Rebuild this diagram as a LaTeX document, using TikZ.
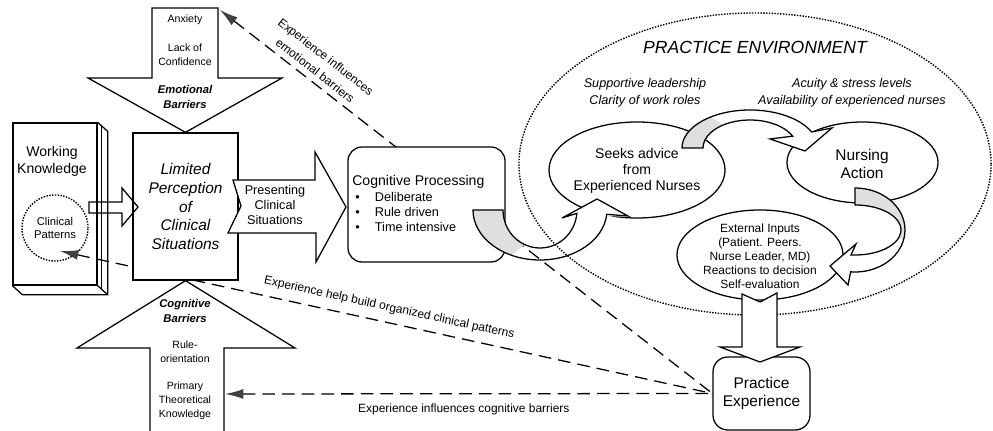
\documentclass[tikz,border=0pt]{standalone}
\usepackage{fontspec}
\setmainfont{Liberation Sans}
\usetikzlibrary{arrows.meta}
\usetikzlibrary{calc}
\usetikzlibrary{shapes.geometric}

\tikzset{
  outline/.style={line width=0.9pt, line join=miter},
  whitebox/.style={outline, draw, fill=white},
  expline/.style={line width=0.9pt, dash pattern=on 9pt off 5pt, arrows={Latex[length=13pt,width=7pt,color=black!75]-}},
  note/.style={font=\fontsize{8.5}{12.5}\selectfont, inner sep=1pt, align=center},
  bartxt/.style={font=\fontsize{7.5}{10}\selectfont, align=center, inner sep=0pt},
  bartitle/.style={font=\fontsize{8}{10}\selectfont\bfseries\itshape, align=center, inner sep=0pt},
  oval/.style={draw, ellipse, line width=0.9pt, fill=white, inner sep=0pt},
  envtxt/.style={font=\fontsize{9}{12}\selectfont\itshape, align=center, inner sep=0pt},
  dots/.style={line width=1pt, dash pattern=on 1pt off 1pt},
}

\begin{document}
\begin{tikzpicture}[x=0.025cm, y=0.025cm]
    \useasboundingbox (0,0) rectangle (993,-431);

    % practice environment
    \node[draw, ellipse, dots, minimum width=11.8cm, minimum height=7.55cm, inner sep=0pt] (env) at (755,-164) {};
    \node[font=\fontsize{12.5}{14}\selectfont\itshape] (env-title) at (755,-47) {PRACTICE ENVIRONMENT};
    \node[envtxt] (env-lead) at (645,-93) {Supportive leadership\\Clarity of work roles};
    \node[envtxt] (env-load) at (852,-93) {Acuity \& stress levels\\Availability of experienced nurses};

    % working knowledge
    \node[whitebox, minimum width=2.1cm, minimum height=4.05cm] (wk) at (55,-204) {};
    \draw[outline] (wk.north east) -- ++(10,-9) |- ($(wk.south west)+(10,-9)$) -- (wk.south west);
    \draw[outline] (wk.south east) -- ++(10,-9);
    \draw[outline] ($(wk.north east)+(4,-3.5)$) -- ($(wk.south east)+(4,-3.5)$);
    \node[font=\fontsize{10}{12}\selectfont, align=center] (wk-txt) at (52,-161) {Working\\Knowledge};
    \node[draw, circle, dots, minimum size=1.65cm, inner sep=0pt, font=\fontsize{8}{9.3}\selectfont, align=center] (clinpat) at (55,-228) {Clinical\\Patterns};

    \node[whitebox, rounded corners=10.6pt, minimum width=2.425cm, minimum height=1.825cm, font=\fontsize{11}{13.5}\selectfont, align=center] (pexp) at (761.5,-393.5) {Practice\\Experience};

    % experience feeds back
    \coordinate (emo-corner) at (220,-10);
    \coordinate (clinpat-in) at (60,-251);
    \coordinate (cog-edge) at (225,-394);
    \draw[expline] (emo-corner) -- node[note, sloped, above=3pt, pos=0.18] (lbl-emo) {Experience influences\\emotional barriers} (pexp.west);
    \draw[expline] (clinpat-in) -- node[note, sloped, above=5pt, pos=0.5] (lbl-pat) {Experience help build organized clinical patterns} (pexp.west);
    \draw[expline] (cog-edge) -- node[note, below=6pt, pos=0.49] (lbl-cog) {Experience influences cognitive barriers} (pexp.west);

    % limited perception
    \node[whitebox, minimum width=2.625cm, minimum height=3.675cm, font=\fontsize{11}{13.3}\selectfont\itshape, align=center] (limited) at (185.5,-206.5) {Limited\\Perception\\of\\Clinical\\Situations};
    \draw[outline] (89,-202) -- (122,-202) -- (122,-188) -- (138,-207) -- (122,-226) -- (122,-213) -- (89,-213) -- cycle;

    % emotional barriers
    \draw[whitebox] (152,-8) -- (218,-8) -- (218,-78) -- (282,-78) -- (limited.north) -- (88,-78) -- (152,-78) -- cycle;
    \node[bartxt] (emo-anx) at (185,-20) {Anxiety};
    \node[bartxt] (emo-conf) at (185,-55) {Lack of\\Confidence};
    \node[bartitle] (emo-title) at (185,-97) {Emotional\\Barriers};

    % cognitive barriers
    \fill[white] (150,-432) -- (150,-348) -- (77,-348) -- (limited.south) -- (295,-348) -- (224,-348) -- (224,-432) -- cycle;
    \draw[outline] (150,-432) -- (150,-348) -- (77,-348) -- (limited.south) -- (295,-348) -- (224,-348) -- (224,-432);
    \node[bartitle] (cog-title) at (185,-311) {Cognitive\\Barriers};
    \node[bartxt] (cog-rule) at (185,-352) {Rule-\\orientation};
    \node[bartxt] (cog-prim) at (185,-401) {Primary\\Theoretical\\Knowledge};

    % presenting clinical situations
    \draw[whitebox] (233,-180) -- (315,-180) -- (315,-152) -- (346,-207) -- (316,-262) -- (316,-233) -- (228,-233) -- (241,-206) -- cycle;
    \node[font=\fontsize{9}{11}\selectfont, align=center, inner sep=0pt] (present) at (275,-205) {Presenting\\Clinical\\Situations};

    % cognitive processing
    \node[whitebox, rounded corners=10pt, minimum width=3.925cm, minimum height=2.875cm] (cogproc) at (426.5,-204.5) {};
    \node[anchor=west, font=\fontsize{10}{12}\selectfont, inner sep=0pt] (cogproc-title) at (352,-182) {Cognitive Processing};
    \node[anchor=north west, align=left, font=\fontsize{9}{10.6}\selectfont, inner sep=0pt] (cogproc-list) at (355,-192)
        {\makebox[14pt][l]{\textbullet}Deliberate\\\makebox[14pt][l]{\textbullet}Rule driven\\\makebox[14pt][l]{\textbullet}Time intensive};

    % ovals inside the environment
    \node[oval, minimum width=4.4cm, minimum height=2.4cm] (seeks) at (637,-170) {};
    \node[font=\fontsize{10}{11.5}\selectfont, align=center, inner sep=0pt] (seeks-txt) at (637,-171) {Seeks advice\\from\\Experienced Nurses};
    \node[oval, minimum width=3.775cm, minimum height=2.025cm] (nursing) at (862.5,-162.5) {};
    \node[font=\fontsize{11}{12.8}\selectfont, align=center, inner sep=0pt] (nursing-txt) at (862,-164) {Nursing\\Action};
    \node[oval, minimum width=4.15cm, minimum height=2.25cm] (external) at (760,-255) {};
    \node[font=\fontsize{8.5}{10}\selectfont, align=center, inner sep=0pt] (external-txt) at (760,-256) {External Inputs\\(Patient. Peers.\\Nurse Leader, MD)\\Reactions to decision\\Self-evaluation};

    % external inputs to practice experience
    \draw[whitebox] (742,-294) -- (742,-347) -- (720,-347) -- (760,-362) -- (800,-347) -- (777,-347) -- (777,-293) -- (760,-302) -- cycle;

    % cognitive processing to seeks advice
    \begin{scope}[shift={(540,-210)}]
        \fill[gray!25] (180:67 and 50) arc[start angle=180, end angle=245, x radius=67, y radius=50] -- (245:37 and 38) arc[start angle=245, end angle=180, x radius=37, y radius=38] -- cycle;
        \fill[white] (88,-6) -- (57,11) -- (22,-8) -- cycle;
        \draw[outline] (180:67 and 50) arc[start angle=180, end angle=355, x radius=67, y radius=50] -- (88,-6) -- (57,11) -- (22,-8) -- (355:37 and 38) arc[start angle=355, end angle=180, x radius=37, y radius=38] -- cycle;
    \end{scope}

    % seeks advice to nursing action
    \begin{scope}[shift={(750,-148)}]
        \fill[gray!25] (180:68 and 38) arc[start angle=180, end angle=125, x radius=68, y radius=38] -- (125:47 and 28) arc[start angle=125, end angle=180, x radius=47, y radius=28] -- cycle;
        \fill[white] (82,20) -- (55,-3) -- (20,9) -- cycle;
        \draw[outline] (180:68 and 38) arc[start angle=180, end angle=25, x radius=68, y radius=38] -- (82,20) -- (55,-3) -- (20,9) -- (25:47 and 28) arc[start angle=25, end angle=180, x radius=47, y radius=28] -- cycle;
    \end{scope}

    % nursing action to external inputs
    \begin{scope}[shift={(855,-230)}]
        \fill[gray!25] (90:50 and 42) arc[start angle=90, end angle=-15, x radius=50, y radius=42] -- (-15:46 and 25) arc[start angle=-15, end angle=90, x radius=46, y radius=25] -- cycle;
        \fill[white] (-7,-55) -- (-25,-36) -- (1,-14) -- cycle;
        \draw[outline] (90:50 and 42) arc[start angle=90, end angle=-95, x radius=50, y radius=42] -- (-7,-55) -- (-25,-36) -- (1,-14) -- (-95:46 and 25) arc[start angle=-95, end angle=90, x radius=46, y radius=25] -- cycle;
    \end{scope}

\end{tikzpicture}
\end{document}
